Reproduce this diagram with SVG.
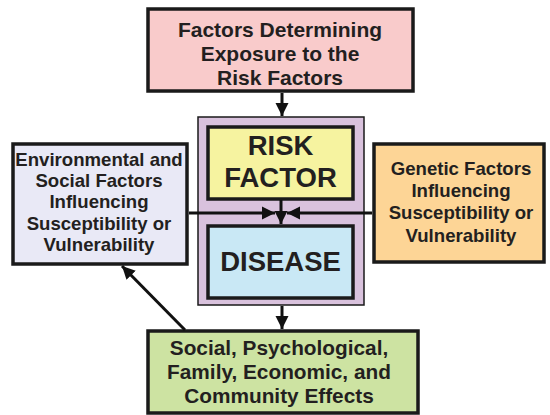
<svg xmlns="http://www.w3.org/2000/svg" width="550" height="415" viewBox="0 0 550 415">
<style>
.box{stroke:#1a1a1a;stroke-width:3.5}
.t{font-family:"Liberation Sans",Arial,sans-serif;font-weight:bold;fill:#231f20;text-anchor:middle}
.c{stroke:#111;stroke-width:3;fill:none}
</style>
<defs>
<marker id="ah" markerUnits="userSpaceOnUse" markerWidth="14" markerHeight="14" refX="13" refY="7" orient="auto">
<path d="M0,0.5 L13,7 L0,13.5 z" fill="#111"/>
</marker>
</defs>
<rect width="550" height="415" fill="#fff"/>
<g id="exposure">
<rect class="box" x="148" y="9" width="265" height="82" fill="#f9cbcb"/>
<text class="t" font-size="21"><tspan x="280" y="37">Factors Determining</tspan><tspan x="280" y="61">Exposure to the</tspan><tspan x="280" y="85">Risk Factors</tspan></text>
</g>
<g id="container">
<rect x="198" y="117" width="166" height="188" fill="#d9c2dd" stroke="#1a1a1a" stroke-width="1.5"/>
</g>
<g id="risk">
<rect class="box" x="208" y="127" width="145" height="72" fill="#f6f3a0"/>
<text class="t" font-size="27.5"><tspan x="280.5" y="155">RISK</tspan><tspan x="280.5" y="187">FACTOR</tspan></text>
</g>
<g id="disease">
<rect class="box" x="208" y="226" width="145" height="72" fill="#c9e8f5"/>
<text class="t" font-size="27.5" x="280.5" y="271">DISEASE</text>
</g>
<g id="environmental">
<rect class="box" x="13" y="144" width="174" height="120" fill="#e9e9f6"/>
<text class="t" font-size="18.6"><tspan x="99" y="166">Environmental and</tspan><tspan x="99" y="187">Social Factors</tspan><tspan x="99" y="208">Influencing</tspan><tspan x="99" y="230">Susceptibility or</tspan><tspan x="99" y="251">Vulnerability</tspan></text>
</g>
<g id="genetic">
<rect class="box" x="374" y="144" width="170" height="118" fill="#fdd596"/>
<text class="t" font-size="18.6"><tspan x="461" y="175">Genetic Factors</tspan><tspan x="461" y="197">Influencing</tspan><tspan x="461" y="219">Susceptibility or</tspan><tspan x="461" y="242">Vulnerability</tspan></text>
</g>
<g id="effects">
<rect class="box" x="148" y="331" width="270" height="82" fill="#cde3a2"/>
<text class="t" font-size="20.8"><tspan x="279" y="355">Social, Psychological,</tspan><tspan x="279" y="379">Family, Economic, and</tspan><tspan x="279" y="403">Community Effects</tspan></text>
</g>
<g id="connectors">
<line class="c" x1="282" y1="93" x2="282" y2="116" marker-end="url(#ah)"/>
<line class="c" x1="189" y1="213" x2="275" y2="213" marker-end="url(#ah)"/>
<line class="c" x1="372" y1="213" x2="287" y2="213" marker-end="url(#ah)"/>
<line class="c" x1="281" y1="200" x2="281" y2="224" marker-end="url(#ah)"/>
<line class="c" x1="282" y1="306" x2="282" y2="329" marker-end="url(#ah)"/>
<line class="c" x1="185" y1="330" x2="122" y2="266" marker-end="url(#ah)"/>
</g>
</svg>
